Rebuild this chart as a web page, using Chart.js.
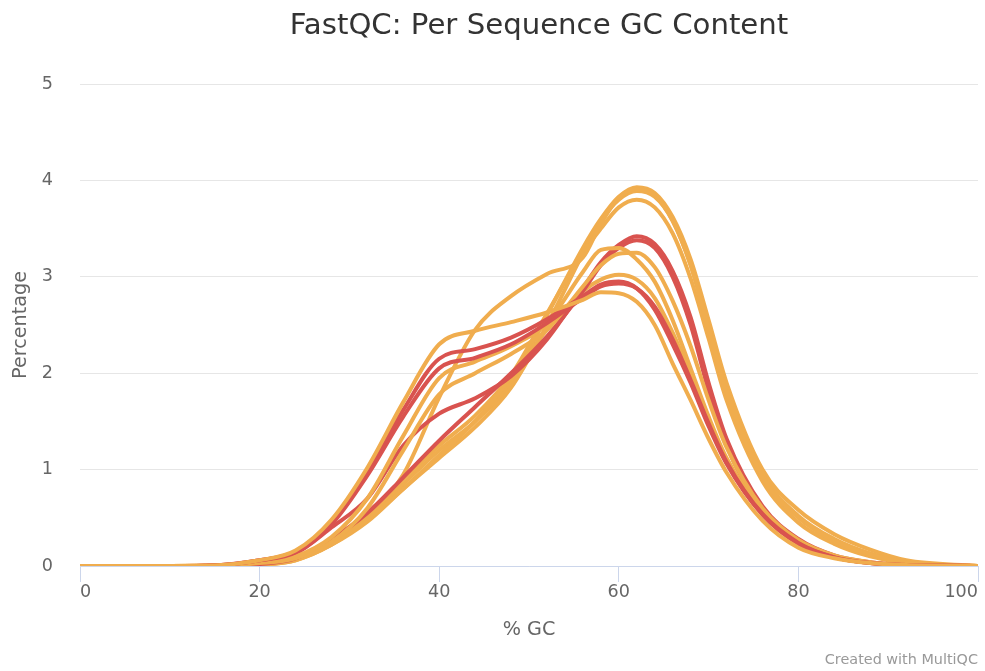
<!DOCTYPE html>
<html>
<head>
<meta charset="utf-8">
<title>FastQC: Per Sequence GC Content</title>
<script src="https://cdn.jsdelivr.net/npm/chart.js@4.4.1/dist/chart.umd.min.js"></script>
<style>
    html, body { margin: 0; padding: 0; background: #ffffff; }
    #GcContentDiagram { position: relative; width: 985px; height: 671px; }
    #chartTitle {
        position: absolute; left: 539px; top: 10px; transform: translateX(-50%);
        font-family: "DejaVu Sans", sans-serif; font-size: 29.2px; line-height: 29.2px;
        color: #333333; white-space: nowrap;
    }
    #credits {
        position: absolute; right: 7px; top: 652px;
        font-family: "DejaVu Sans", sans-serif; font-size: 14.4px; line-height: 14.4px;
        color: #999999; white-space: nowrap;
    }
</style>
</head>
<body>
<div id="GcContentDiagram">
    <canvas></canvas>
    <div id="chartTitle">FastQC: Per Sequence GC Content</div>
    <div id="credits">Created with MultiQC</div>
</div>
<script>
// % GC positions the samples are read at
var gc_percent = [0, 10, 15, 20, 24, 28, 32, 36, 40, 44, 48, 52, 56, 58, 60, 62, 64, 66, 68, 70, 72, 76, 80, 84, 88, 92, 100];

// orange samples (warn)
var sample_o1 = [0, 0, 0.003, 0.015, 0.07, 0.25, 0.5, 0.85, 1.2, 1.5, 1.9, 2.6, 3.3, 3.6, 3.83, 3.93, 3.87, 3.62, 3.18, 2.55, 1.9, 1.0, 0.58, 0.33, 0.17, 0.06, 0];
var sample_o2 = [0, 0, 0.003, 0.02, 0.08, 0.28, 0.55, 0.9, 1.25, 1.56, 1.98, 2.62, 3.25, 3.5, 3.72, 3.8, 3.72, 3.45, 2.98, 2.36, 1.72, 0.88, 0.45, 0.23, 0.1, 0.03, 0];
var sample_o3 = [0, 0, 0.002, 0.012, 0.06, 0.22, 0.46, 0.8, 1.12, 1.44, 1.85, 2.5, 3.24, 3.58, 3.8, 3.89, 3.83, 3.58, 3.12, 2.48, 1.84, 0.95, 0.52, 0.28, 0.13, 0.04, 0];
var sample_o5 = [0, 0, 0.003, 0.02, 0.08, 0.27, 0.5, 0.95, 1.75, 2.45, 2.8, 3.03, 3.2, 3.55, 3.82, 3.91, 3.84, 3.58, 3.12, 2.46, 1.8, 0.92, 0.5, 0.26, 0.12, 0.035, 0];
var sample_o6 = [0, 0, 0.005, 0.04, 0.1, 0.3, 0.7, 1.35, 1.95, 2.12, 2.28, 2.52, 3.05, 3.28, 3.3, 3.18, 2.95, 2.55, 2.05, 1.55, 1.12, 0.56, 0.25, 0.1, 0.035, 0.01, 0];
var sample_o7 = [0, 0, 0.004, 0.03, 0.08, 0.25, 0.6, 1.2, 1.78, 2.0, 2.2, 2.45, 2.9, 3.12, 3.24, 3.25, 3.1, 2.75, 2.28, 1.72, 1.23, 0.6, 0.27, 0.11, 0.04, 0.01, 0];
var sample_o8 = [0, 0, 0.006, 0.06, 0.16, 0.48, 1.02, 1.7, 2.3, 2.44, 2.53, 2.63, 2.76, 2.84, 2.83, 2.74, 2.5, 2.1, 1.72, 1.32, 0.97, 0.47, 0.19, 0.08, 0.03, 0.01, 0];
var sample_o9 = [0, 0, 0.002, 0.015, 0.06, 0.22, 0.48, 0.8, 1.15, 1.5, 1.95, 2.45, 2.85, 2.97, 3.02, 2.97, 2.78, 2.42, 1.98, 1.5, 1.08, 0.55, 0.24, 0.09, 0.03, 0.01, 0];

// red samples (fail)
var sample_r1 = [0, 0, 0.003, 0.02, 0.08, 0.28, 0.55, 0.92, 1.3, 1.65, 2.0, 2.38, 2.85, 3.12, 3.3, 3.38, 3.3, 3.0, 2.5, 1.82, 1.25, 0.58, 0.26, 0.1, 0.035, 0.01, 0];
var sample_r3 = [0, 0, 0.006, 0.06, 0.15, 0.45, 0.98, 1.62, 2.15, 2.25, 2.37, 2.56, 2.8, 2.92, 2.95, 2.88, 2.66, 2.3, 1.9, 1.45, 1.06, 0.53, 0.23, 0.09, 0.03, 0.01, 0];
var sample_r4 = [0, 0, 0.006, 0.06, 0.14, 0.43, 0.94, 1.55, 2.05, 2.16, 2.3, 2.52, 2.78, 2.9, 2.93, 2.88, 2.69, 2.35, 1.93, 1.48, 1.08, 0.54, 0.24, 0.09, 0.03, 0.01, 0];
var sample_r5 = [0, 0, 0.005, 0.05, 0.13, 0.4, 0.7, 1.25, 1.58, 1.74, 1.97, 2.35, 2.88, 3.15, 3.33, 3.42, 3.34, 3.06, 2.58, 1.9, 1.32, 0.62, 0.28, 0.11, 0.04, 0.01, 0];

var x_ticks = [0, 20, 40, 60, 80, 100];
var y_ticks = [0, 1, 2, 3, 4, 5];

var ORANGE = "#f0ad4e";
var RED = "#d9534f";
var FONT = "'DejaVu Sans', sans-serif";


function makeDataset(values, color) {
    var points = [];
    for (var i = 0; i < gc_percent.length; ++i) {
        points.push({x: gc_percent[i], y: values[i]});
    }
    return {
        type: "line",
        data: points,
        borderColor: color,
        backgroundColor: color,
        borderWidth: 4,
        pointRadius: 0,
        cubicInterpolationMode: "monotone",
        borderJoinStyle: "round",
        borderCapStyle: "round",
        fill: false
    };
}


document.addEventListener('DOMContentLoaded', function () {

    var canvas = document.querySelector("#GcContentDiagram canvas");

    // draw order: early samples first, the 3.9 band on top
    var datasets = [
        makeDataset(sample_o8, ORANGE),
        makeDataset(sample_r3, RED),
        makeDataset(sample_r4, RED),
        makeDataset(sample_o6, ORANGE),
        makeDataset(sample_o7, ORANGE),
        makeDataset(sample_r5, RED),
        makeDataset(sample_r1, RED),
        makeDataset(sample_o9, ORANGE),
        makeDataset(sample_o5, ORANGE),
        makeDataset(sample_o2, ORANGE),
        makeDataset(sample_o3, ORANGE),
        makeDataset(sample_o1, ORANGE)
    ];

    new Chart(canvas, {
        type: "line",
        data: {datasets: datasets},
        options: {
            responsive: true,
            maintainAspectRatio: false,
            animation: false,
            layout: {padding: {left: 0, right: 7, top: 84, bottom: 0}},
            scales: {
                x: {
                    type: "linear",
                    min: 0,
                    max: 100,
                    afterBuildTicks: function (scale) {
                        scale.ticks = x_ticks.map(function (v) { return {value: v}; });
                    },
                    afterFit: function (scale) {
                        scale.height = 105;
                        scale.paddingLeft = 0;
                        scale.paddingRight = 0;
                    },
                    ticks: {
                        color: "#666666",
                        font: {family: FONT, size: 17.6},
                        padding: 0,
                        align: "inner",
                        maxRotation: 0
                    },
                    grid: {
                        drawOnChartArea: false,
                        drawTicks: true,
                        tickLength: 16,
                        color: "#ccd6eb",
                        lineWidth: 1
                    },
                    border: {display: true, color: "#ccd6eb", width: 1},
                    title: {
                        display: true,
                        text: "% GC",
                        color: "#666666",
                        font: {family: FONT, size: 19.2},
                        padding: {top: 29, bottom: 29}
                    }
                },
                y: {
                    min: 0,
                    max: 5,
                    afterBuildTicks: function (scale) {
                        scale.ticks = y_ticks.map(function (v) { return {value: v}; });
                    },
                    afterFit: function (scale) {
                        scale.width = 80;
                        scale.paddingTop = 0;
                        scale.paddingBottom = 0;
                    },
                    ticks: {
                        color: "#666666",
                        font: {family: FONT, size: 17.6},
                        padding: 27
                    },
                    grid: {
                        drawTicks: false,
                        color: "#e6e6e6",
                        lineWidth: 1
                    },
                    border: {display: false},
                    title: {
                        display: true,
                        text: "Percentage",
                        color: "#666666",
                        font: {family: FONT, size: 19.2},
                        padding: {top: 9, bottom: 9}
                    }
                }
            },
            plugins: {
                legend: {display: false},
                tooltip: {enabled: false},
                title: {display: false}
            }
        }
    });
})
</script>
</body>
</html>
